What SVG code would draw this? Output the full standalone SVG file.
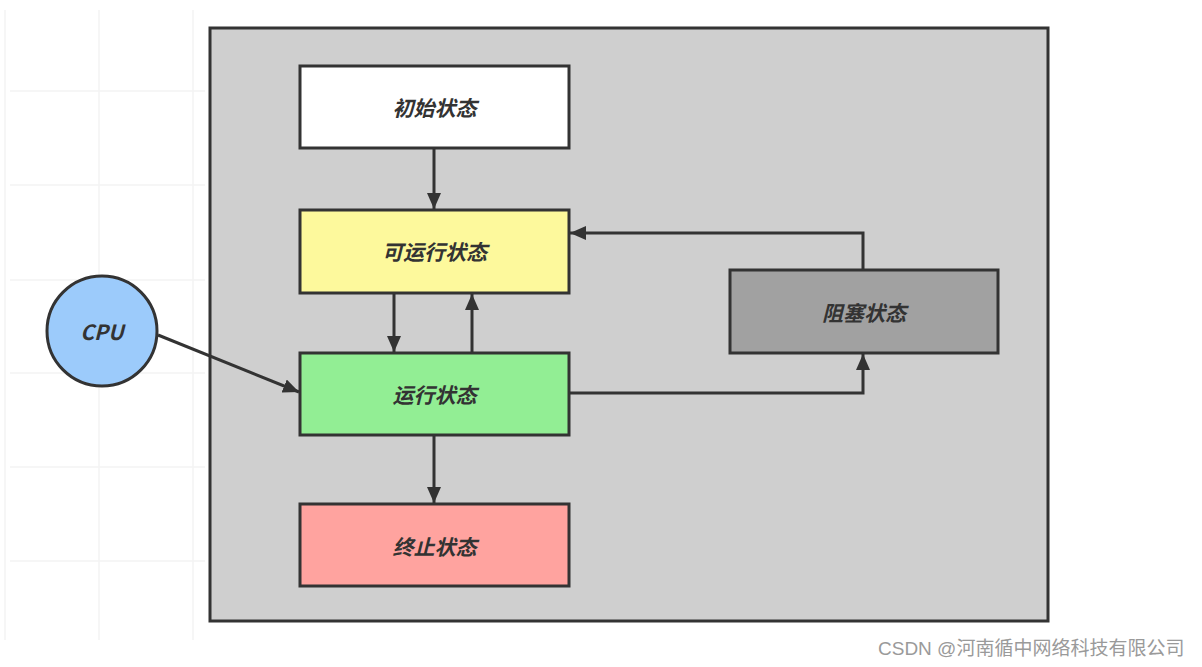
<svg xmlns="http://www.w3.org/2000/svg" width="1202" height="667" viewBox="0 0 1202 667">
<defs>
<style>
.node{stroke:#333;stroke-width:3}
.lbl{font-family:"Noto Sans CJK SC","Liberation Sans",sans-serif;font-size:21px;font-weight:bold;font-style:italic;fill:#333;text-anchor:middle;dominant-baseline:central}
.edge{fill:none;stroke:#333;stroke-width:3;marker-end:url(#arr)}
.grid{stroke:#f3f3f3;stroke-width:1.5}
</style>
<marker id="arr" markerUnits="userSpaceOnUse" markerWidth="18" markerHeight="14" refX="16" refY="7" orient="auto">
<path d="M0,0 L16,7 L0,14 Z" fill="#333"/>
</marker>
</defs>
<rect width="1202" height="667" fill="#ffffff"/>
<g id="grid">
<line class="grid" x1="5" y1="10" x2="5" y2="640"/>
<line class="grid" x1="99" y1="10" x2="99" y2="640"/>
<line class="grid" x1="193" y1="10" x2="193" y2="640"/>
<line class="grid" x1="10" y1="91" x2="205" y2="91"/>
<line class="grid" x1="10" y1="185" x2="205" y2="185"/>
<line class="grid" x1="10" y1="280" x2="205" y2="280"/>
<line class="grid" x1="10" y1="373" x2="205" y2="373"/>
<line class="grid" x1="10" y1="467" x2="205" y2="467"/>
<line class="grid" x1="10" y1="561" x2="205" y2="561"/>
</g>
<g id="container">
<rect x="210" y="28" width="838" height="593" fill="#cfcfcf" stroke="#333" stroke-width="3"/>
</g>
<g id="connectors">
<path class="edge" d="M434,148 L434,209"/>
<path class="edge" d="M394,293 L394,352"/>
<path class="edge" d="M472,353 L472,294"/>
<path class="edge" d="M434,435 L434,503"/>
<path class="edge" d="M569,393 L863,393 L863,354"/>
<path class="edge" d="M863,270 L863,233 L570,233"/>
<path class="edge" d="M158,335 L299,392"/>
</g>
<g id="init">
<rect class="node" x="300" y="66" width="269" height="82" fill="#ffffff"/>
<text class="lbl" x="434.5" y="107">初始状态</text>
</g>
<g id="runnable">
<rect class="node" x="300" y="210" width="269" height="83" fill="#fdf99c"/>
<text class="lbl" x="434.5" y="251">可运行状态</text>
</g>
<g id="running">
<rect class="node" x="300" y="353" width="269" height="82" fill="#92ee94"/>
<text class="lbl" x="434.5" y="394">运行状态</text>
</g>
<g id="terminated">
<rect class="node" x="300" y="504" width="269" height="82" fill="#ffa39f"/>
<text class="lbl" x="434.5" y="546">终止状态</text>
</g>
<g id="blocked">
<rect class="node" x="730" y="270" width="268" height="83" fill="#a1a1a1"/>
<text class="lbl" x="864" y="312">阻塞状态</text>
</g>
<g id="cpu">
<circle class="node" cx="102" cy="331" r="55" fill="#9ccbfb"/>
<text class="lbl" x="102" y="331">CPU</text>
</g>
<text x="878" y="655" font-family="'Liberation Sans','Noto Sans CJK SC',sans-serif" font-size="19" fill="#9a9a9a">CSDN @河南循中网络科技有限公司</text>
</svg>
